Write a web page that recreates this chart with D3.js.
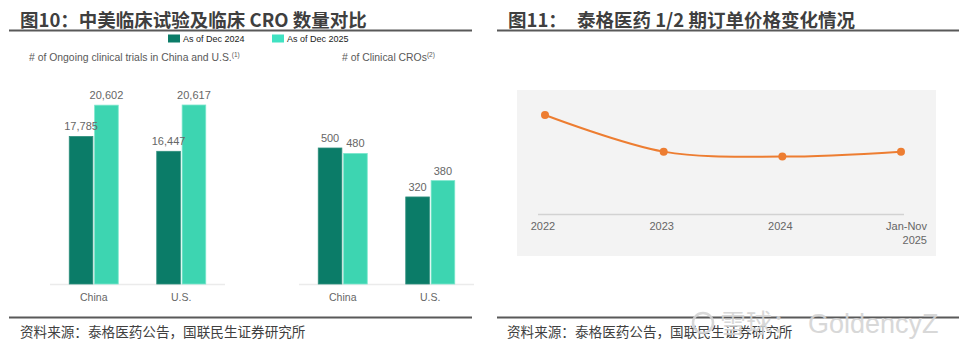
<!DOCTYPE html>
<html><head><meta charset="utf-8">
<script src="https://cdn.jsdelivr.net/npm/d3@7"></script>
<style>
html,body{margin:0;padding:0;background:#fff;}
text{font-family:"Liberation Sans",Arial,"Noto Sans CJK SC",sans-serif;}
.cjk{font-family:"Noto Sans CJK SC","Liberation Sans",sans-serif;}
</style></head>
<body>
<svg id="c" width="971" height="355"></svg>
<script>
// ---- data ----
const regions = ["China", "U.S."];
const seriesNames = ["As of Dec 2024", "As of Dec 2025"];
const trials2024 = [17785, 16447];
const trials2025 = [20602, 20617];
const cros2024 = [500, 320];
const cros2025 = [480, 380];
const priceYears = ["2022", "2023", "2024", "Jan-Nov 2025"];
const priceIndex = [100, 63, 58, 63];

const svg = d3.select("#c");
const darkG = "#0b7c68", lightG = "#3dd5b1";

// ---- titles and rules ----
svg.append("text").attr("class","cjk").attr("x",20).attr("y",27)
  .attr("font-size",18.5).attr("font-weight","bold").attr("fill","#3f3f3f")
  .text("图10：中美临床试验及临床 CRO 数量对比");
const t2 = svg.append("text").attr("class","cjk").attr("y",27)
  .attr("font-size",18.5).attr("font-weight","bold").attr("fill","#3f3f3f");
t2.append("tspan").attr("x",508).text("图11：");
t2.append("tspan").attr("x",577).text("泰格医药 1/2 期订单价格变化情况");

[[9,472],[497,959]].forEach(([a,b])=>{
  svg.append("line").attr("x1",a).attr("x2",b).attr("y1",30.5).attr("y2",30.5)
    .attr("stroke","#595959").attr("stroke-width",2);
  svg.append("line").attr("x1",a).attr("x2",b).attr("y1",317.5).attr("y2",317.5)
    .attr("stroke","#595959").attr("stroke-width",2);
});
[20,507].forEach(x=>{
  svg.append("text").attr("class","cjk").attr("x",x).attr("y",336.5)
    .attr("font-size",13.6).attr("fill","#404040")
    .text("资料来源：泰格医药公告，国联民生证券研究所");
});

// ---- legend ----
const legCols = [darkG, "#40e2c2"];
const legX = [168, 272];
seriesNames.forEach((s,i)=>{
  svg.append("rect").attr("x",legX[i]).attr("y",34.5).attr("width",12).attr("height",8).attr("fill",legCols[i]);
  svg.append("text").attr("x",legX[i]+15).attr("y",42).attr("font-size",9).attr("fill","#222").text(s);
});

// subtitles
function subtitle(x, txt, sup){
  const t = svg.append("text").attr("x",x).attr("y",61).attr("font-size",10.4).attr("fill","#595959");
  t.append("tspan").text(txt);
  t.append("tspan").attr("font-size",6.5).attr("dy",-4).text(sup);
}
subtitle(29, "# of Ongoing clinical trials in China and U.S.", "(1)");
subtitle(342, "# of Clinical CROs", "(2)");

// ---- bar panels ----
function panel(x0, x1, yScale, s1, s2, fmt){
  const base = 284;
  const g = svg.append("g");
  const xb = d3.scaleBand().domain(regions).range([x0,x1]).padding(0);
  const half = 24.5;
  const xi = d3.scaleBand().domain(seriesNames).range([-half,half]).paddingInner(0.07);
  g.append("line").attr("x1",x0).attr("x2",x1).attr("y1",base+0.5).attr("y2",base+0.5)
    .attr("stroke","#ebebeb").attr("stroke-width",1.5);
  const rows = [];
  regions.forEach((r,i)=>{
    rows.push({r, s:seriesNames[0], v:s1[i], c:darkG, st:"#2f8f7d"});
    rows.push({r, s:seriesNames[1], v:s2[i], c:lightG, st:"#7be6cc"});
  });
  g.selectAll("rect.bar").data(rows).enter().append("rect").attr("class","bar")
    .attr("x",d=>xb(d.r)+xb.bandwidth()/2+xi(d.s))
    .attr("width",xi.bandwidth())
    .attr("y",d=>yScale(d.v)).attr("height",d=>base-yScale(d.v))
    .attr("fill",d=>d.c).attr("stroke",d=>d.st).attr("stroke-width",0.8);
  g.selectAll("text.val").data(rows).enter().append("text").attr("class","val")
    .attr("x",d=>xb(d.r)+xb.bandwidth()/2+xi(d.s)+xi.bandwidth()/2)
    .attr("y",d=>yScale(d.v)-6)
    .attr("text-anchor","middle").attr("font-size",11).attr("fill","#666")
    .text(d=>fmt(d.v));
  g.selectAll("text.cat").data(regions).enter().append("text").attr("class","cat")
    .attr("x",d=>xb(d)+xb.bandwidth()/2).attr("y",300.5)
    .attr("text-anchor","middle").attr("font-size",10.5).attr("fill","#666").text(d=>d);
}
const yTrials = d3.scaleLinear().domain([4500, 20617]).range([284, 105]);
const yCros = d3.scaleLinear().domain([0, 500]).range([284, 148]);
panel(50, 225, yTrials, trials2024, trials2025, d3.format(","));
panel(299, 474, yCros, cros2024, cros2025, d3.format("d"));

// ---- line chart ----
svg.append("rect").attr("x",517).attr("y",90).attr("width",419).attr("height",166).attr("fill","#f3f3f3");
const xp = d3.scalePoint().domain(priceYears).range([545, 901]);
const yp = d3.scaleLinear().domain([0, 100]).range([214, 115]);
svg.append("line").attr("x1",538).attr("x2",904).attr("y1",214.5).attr("y2",214.5)
  .attr("stroke","#d2d2d2").attr("stroke-width",1.5);
const line = d3.line().x((d,i)=>xp(priceYears[i])).y(d=>yp(d)).curve(d3.curveCatmullRom.alpha(0.5));
svg.append("path").datum(priceIndex).attr("d",line).attr("fill","none")
  .attr("stroke","#ed7d31").attr("stroke-width",2);
svg.selectAll("circle.pt").data(priceIndex).enter().append("circle").attr("class","pt")
  .attr("cx",(d,i)=>xp(priceYears[i])).attr("cy",d=>yp(d)).attr("r",4).attr("fill","#ed7d31");
priceYears.forEach((y,i)=>{
  const parts = y.split(" ");
  const last = i===priceYears.length-1;
  const t = svg.append("text").attr("y",230).attr("font-size",11).attr("fill","#666")
    .attr("text-anchor", last ? "end" : "middle");
  const x = last ? xp(y)+26 : xp(y)-2;
  parts.forEach((p,j)=>{
    t.append("tspan").attr("x",x).attr("dy", j===0?0:13.5).text(p);
  });
});

// watermark (overlaps the source line in the reference too)
const wm = svg.append("g").attr("opacity",0.9);
wm.append("circle").attr("cx",703).attr("cy",323).attr("r",10).attr("fill","none").attr("stroke","#d4d4d4").attr("stroke-width",2.5);
wm.append("text").attr("class","cjk").attr("x",720).attr("y",333).attr("font-size",26).attr("fill","#d4d4d4").text("雪球：");
wm.append("text").attr("x",808).attr("y",333).attr("font-size",27).attr("fill","#d4d4d4").text("GoldencyZ");
</script>
</body></html>
